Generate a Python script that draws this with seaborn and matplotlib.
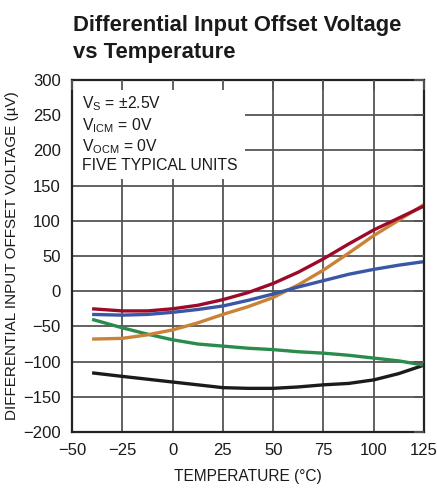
import matplotlib
matplotlib.use("Agg")
import matplotlib.pyplot as plt
import seaborn as sns
import pandas as pd
from matplotlib.patches import Rectangle

# ---- data ----
temps = [-40, -25, -12.5, 0, 12.5, 25, 37.5, 50, 62.5, 75, 87.5, 100, 112.5, 125]
unit_red = [-25, -28, -28, -25, -20, -12, -2, 11, 27, 46, 67, 87, 104, 121]
unit_blue = [-33, -34, -33, -30, -26, -21, -13, -4, 6, 15, 24, 31, 37, 42]
unit_orange = [-68, -67, -62, -55, -45, -33, -22, -9, 9, 30, 54, 79, 101, 123]
unit_green = [-40, -52, -61, -69, -75, -78, -81, -83, -86, -88, -91, -95, -99, -105]
unit_black = [-116, -121, -125, -129, -133, -137, -138, -138, -136, -133, -131, -126, -117, -105]

x_ticks = [-50, -25, 0, 25, 50, 75, 100, 125]
y_ticks = [-200, -150, -100, -50, 0, 50, 100, 150, 200, 250, 300]

series = {"red": unit_red, "blue": unit_blue, "orange": unit_orange,
          "green": unit_green, "black": unit_black}
colors = {"red": "#9c0a2b", "blue": "#3a56a6", "orange": "#c98236",
          "green": "#2a8c4c", "black": "#1c1a1b"}

rows = []
for name, vals in series.items():
    for t, v in zip(temps, vals):
        rows.append({"T": t, "V": v, "unit": name})
df = pd.DataFrame(rows)

sns.set_theme(style="white")
FONT = ["Liberation Sans", "DejaVu Sans"]
plt.rcParams["font.family"] = FONT

fig = plt.figure(figsize=(4.37, 4.92), dpi=100)
ax = fig.add_axes([72 / 437, 1 - 432 / 492, 352 / 437, 352 / 492])

# grid lines (below text box)
for xt in x_ticks:
    ax.axvline(xt, color="#555555", lw=1.3, zorder=0.5)
for yt in y_ticks:
    ax.axhline(yt, color="#555555", lw=1.3, zorder=0.5)

# white annotation box
ax.add_patch(Rectangle((-50, 160), 86, 140, facecolor="white",
                       edgecolor="none", zorder=1))

sns.lineplot(data=df, x="T", y="V", hue="unit", palette=colors,
             hue_order=["black", "green", "orange", "blue", "red"],
             lw=2.4, ax=ax, legend=False, zorder=2)
for l in ax.lines:
    l.set_solid_capstyle("butt")
    l.set_solid_joinstyle("round")

ax.set_xlim(-50, 125)
ax.set_ylim(-200, 300)
ax.set_xticks(x_ticks)
ax.set_yticks(y_ticks)
ax.set_xticklabels([("\u2212%d" % -v) if v < 0 else str(v) for v in x_ticks])
ax.set_yticklabels([("\u2212%d" % -v) if v < 0 else str(v) for v in y_ticks])
ax.set_axisbelow(False)
ax.grid(False)
ax.tick_params(axis="both", which="both", direction="in", length=7,
               width=1.3, color="#555555", labelsize=12,
               top=True, right=True, labelcolor="#1a1a1a")
ax.tick_params(axis="x", pad=8)
ax.tick_params(axis="y", pad=8)
for s in ax.spines.values():
    s.set_color("#222222")
    s.set_linewidth(1.6)
    s.set_visible(True)

ax.set_xlabel("TEMPERATURE (\u00b0C)", fontsize=11.2, color="#1a1a1a", labelpad=8)
ax.set_ylabel("DIFFERENTIAL INPUT OFFSET VOLTAGE (\u00b5V)", fontsize=11,
              color="#1a1a1a", labelpad=3)

txt = dict(fontsize=11.3, color="#1a1a1a", ha="left", va="baseline", zorder=3)
ax.text(-45, 260, "V$_\\mathregular{S}$ = \u00b12.5V", **txt)
ax.text(-45, 229, "V$_\\mathregular{ICM}$ = 0V", **txt)
ax.text(-45, 199, "V$_\\mathregular{OCM}$ = 0V", **txt)
ax.text(-45, 172, "FIVE TYPICAL UNITS", **txt)

fig.text(73 / 437, 1 - 31 / 492, "Differential Input Offset Voltage",
         fontsize=15.8, fontweight="bold", color="#1a1a1a", ha="left", va="baseline")
fig.text(73 / 437, 1 - 58 / 492, "vs Temperature",
         fontsize=15.8, fontweight="bold", color="#1a1a1a", ha="left", va="baseline")

fig.savefig("out.png", dpi=100)
